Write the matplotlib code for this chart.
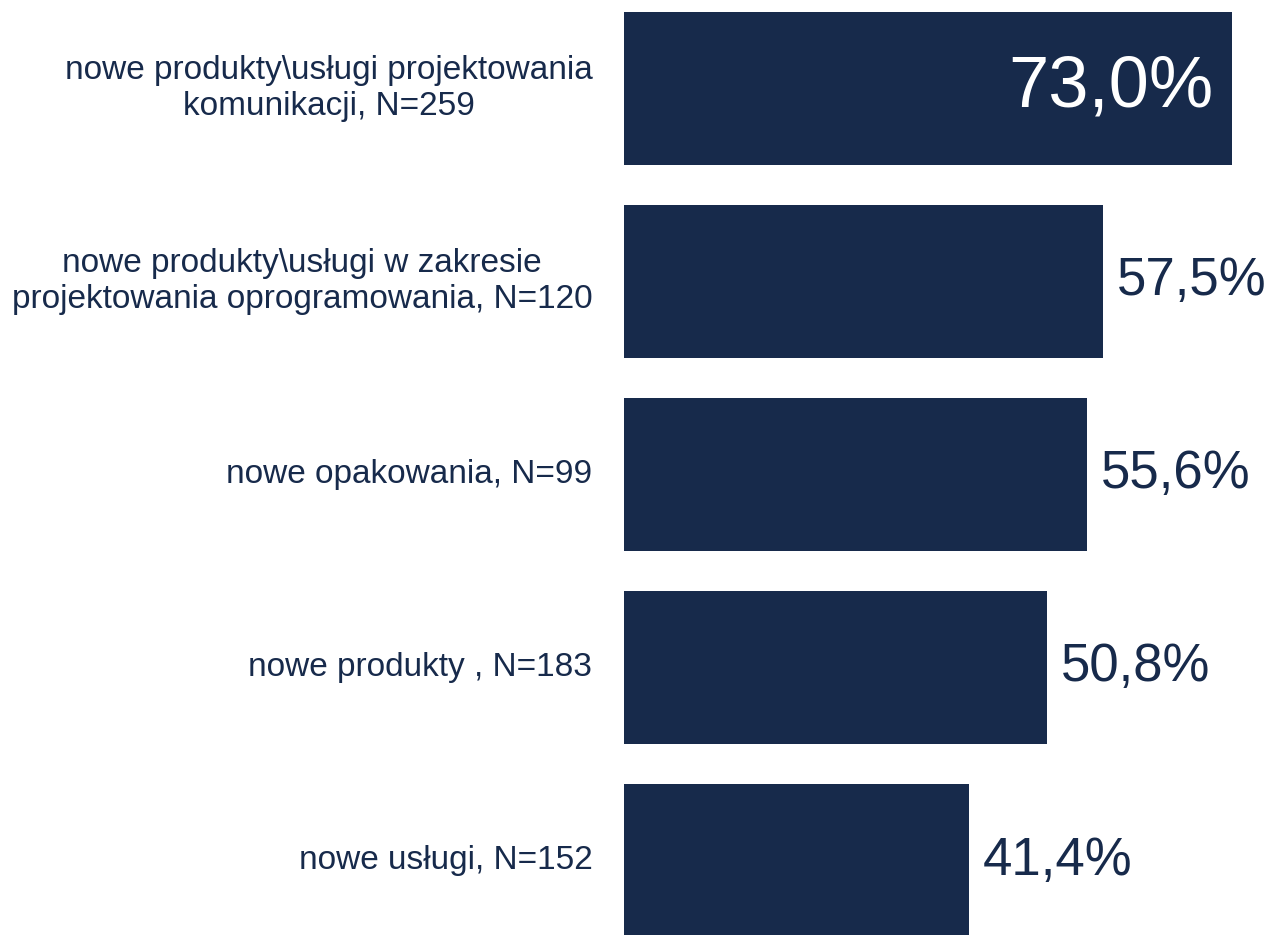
import numpy as np
import matplotlib.pyplot as plt

plt.rcParams['font.family'] = ['Liberation Sans Narrow', 'Liberation Sans', 'DejaVu Sans']

kategorie = [
    "nowe produkty\\usługi projektowania\nkomunikacji, N=259",
    "nowe produkty\\usługi w zakresie\nprojektowania oprogramowania, N=120",
    "nowe opakowania, N=99",
    "nowe produkty , N=183",
    "nowe usługi, N=152",
]
wartosci = [73.0, 57.5, 55.6, 50.8, 41.4]

kolor = "#172a4b"

fig = plt.figure(figsize=(12.67, 9.35), dpi=100)
ax = fig.add_axes([624 / 1267, 0, 1 - 624 / 1267, 1])

y = np.arange(len(wartosci))
ax.barh(y, wartosci, height=0.793, color=kolor)

ax.set_xlim(0, (1267 - 624) / 8.33)
ax.set_ylim(4.386, -0.4585)
ax.axis("off")

for i, (k, v) in enumerate(zip(kategorie, wartosci)):
    ax.text(-3.8, i, k, ha="right", va="center", multialignment="center",
            fontsize=24, color=kolor, linespacing=1.2)
    txt = f"{v:.1f}%".replace(".", ",")
    if i == 0:
        ax.text(v - 2.2, i, txt, ha="right", va="center", fontsize=52, color="white")
    else:
        ax.text(v + 1.7, i, txt, ha="left", va="center", fontsize=38, color=kolor)

plt.savefig("out.png", dpi=100)
